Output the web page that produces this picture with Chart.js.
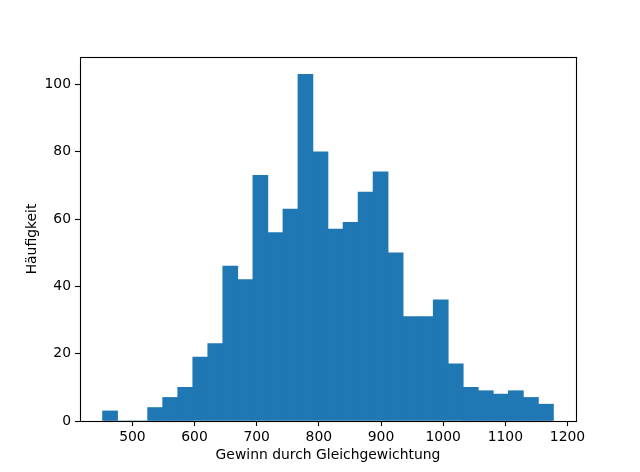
<!DOCTYPE html>
<html>
<head>
<meta charset="utf-8">
<script src="https://cdn.jsdelivr.net/npm/chart.js@4"></script>
<style>
html,body{margin:0;padding:0;background:#fff;}
#wrap{width:640px;height:472px;position:relative;}
</style>
</head>
<body>
<div id="wrap"><canvas id="c" width="640" height="472"></canvas></div>
<script>
// Bin edges (31) of the histogram
const binEdges = [452.0, 476.2, 500.4, 524.5, 548.7, 572.9, 597.1, 621.3, 645.4, 669.6,
  693.8, 718.0, 742.2, 766.3, 790.5, 814.7, 838.9, 863.1, 887.2, 911.4,
  935.6, 959.8, 984.0, 1008.1, 1032.3, 1056.5, 1080.7, 1104.9, 1129.0, 1153.2, 1177.4];
// Counts per bin
const counts = [3, 0, 0, 4, 7, 10, 19, 23, 46, 42,
  73, 56, 63, 103, 80, 57, 59, 68, 74, 50,
  31, 31, 36, 17, 10, 9, 8, 9, 7, 5];
const xTicks = [500, 600, 700, 800, 900, 1000, 1100, 1200];
const yTicks = [0, 20, 40, 60, 80, 100];
const xTitle = 'Gewinn durch Gleichgewichtung';
const yTitle = 'Häufigkeit';

const points = counts.map((c, i) => ({x: (binEdges[i] + binEdges[i + 1]) / 2, y: c}));
const span = binEdges[binEdges.length - 1] - binEdges[0];
const xMin = binEdges[0] - 0.05 * span;
const xMax = binEdges[binEdges.length - 1] + 0.05 * span;
const yMax = Math.max(...counts) * 1.05;

const FONT = {family: 'DejaVu Sans', size: 13.9};

const frame = {
  id: 'frame',
  afterDatasetsDraw(chart) {
    const a = chart.chartArea, ctx = chart.ctx;
    ctx.save();
    ctx.strokeStyle = '#000';
    ctx.lineWidth = 1.1;
    ctx.strokeRect(Math.round(a.left) + 0.5, Math.round(a.top) + 0.5,
      Math.round(a.right - a.left), Math.round(a.bottom - a.top));
    ctx.restore();
  }
};

new Chart(document.getElementById('c'), {
  type: 'bar',
  data: {
    datasets: [{
      data: points,
      backgroundColor: '#1f77b4',
      borderWidth: 0,
      barPercentage: 1.0,
      categoryPercentage: 1.0
    }]
  },
  options: {
    responsive: false,
    animation: false,
    devicePixelRatio: 1,
    layout: {padding: {top: 57, right: 64, left: 0, bottom: 0}},
    plugins: {legend: {display: false}, tooltip: {enabled: false}},
    scales: {
      x: {
        type: 'linear',
        min: xMin,
        max: xMax,
        offset: false,
        afterBuildTicks: s => { s.ticks = xTicks.map(v => ({value: v})); },
        afterFit: s => { s.height = 51; },
        ticks: {color: '#000', font: FONT, padding: 3, maxRotation: 0, autoSkip: false,
          callback: v => String(v)},
        grid: {display: true, offset: false, drawOnChartArea: false, drawTicks: true, tickLength: 5,
          tickColor: '#000', tickWidth: 1.1},
        border: {display: false},
        title: {display: true, text: xTitle, color: '#000', font: FONT,
          padding: {top: 0, bottom: 8}}
      },
      y: {
        type: 'linear',
        min: 0,
        max: yMax,
        afterBuildTicks: s => { s.ticks = yTicks.map(v => ({value: v})); },
        afterFit: s => { s.width = 80; },
        ticks: {color: '#000', font: FONT, padding: 4, callback: v => String(v)},
        grid: {display: true, offset: false, drawOnChartArea: false, drawTicks: true, tickLength: 5,
          tickColor: '#000', tickWidth: 1.1},
        border: {display: false},
        title: {display: true, text: yTitle, color: '#000', font: FONT,
          padding: {top: 24, bottom: 0}}
      }
    }
  },
  plugins: [frame]
});
</script>
</body>
</html>
